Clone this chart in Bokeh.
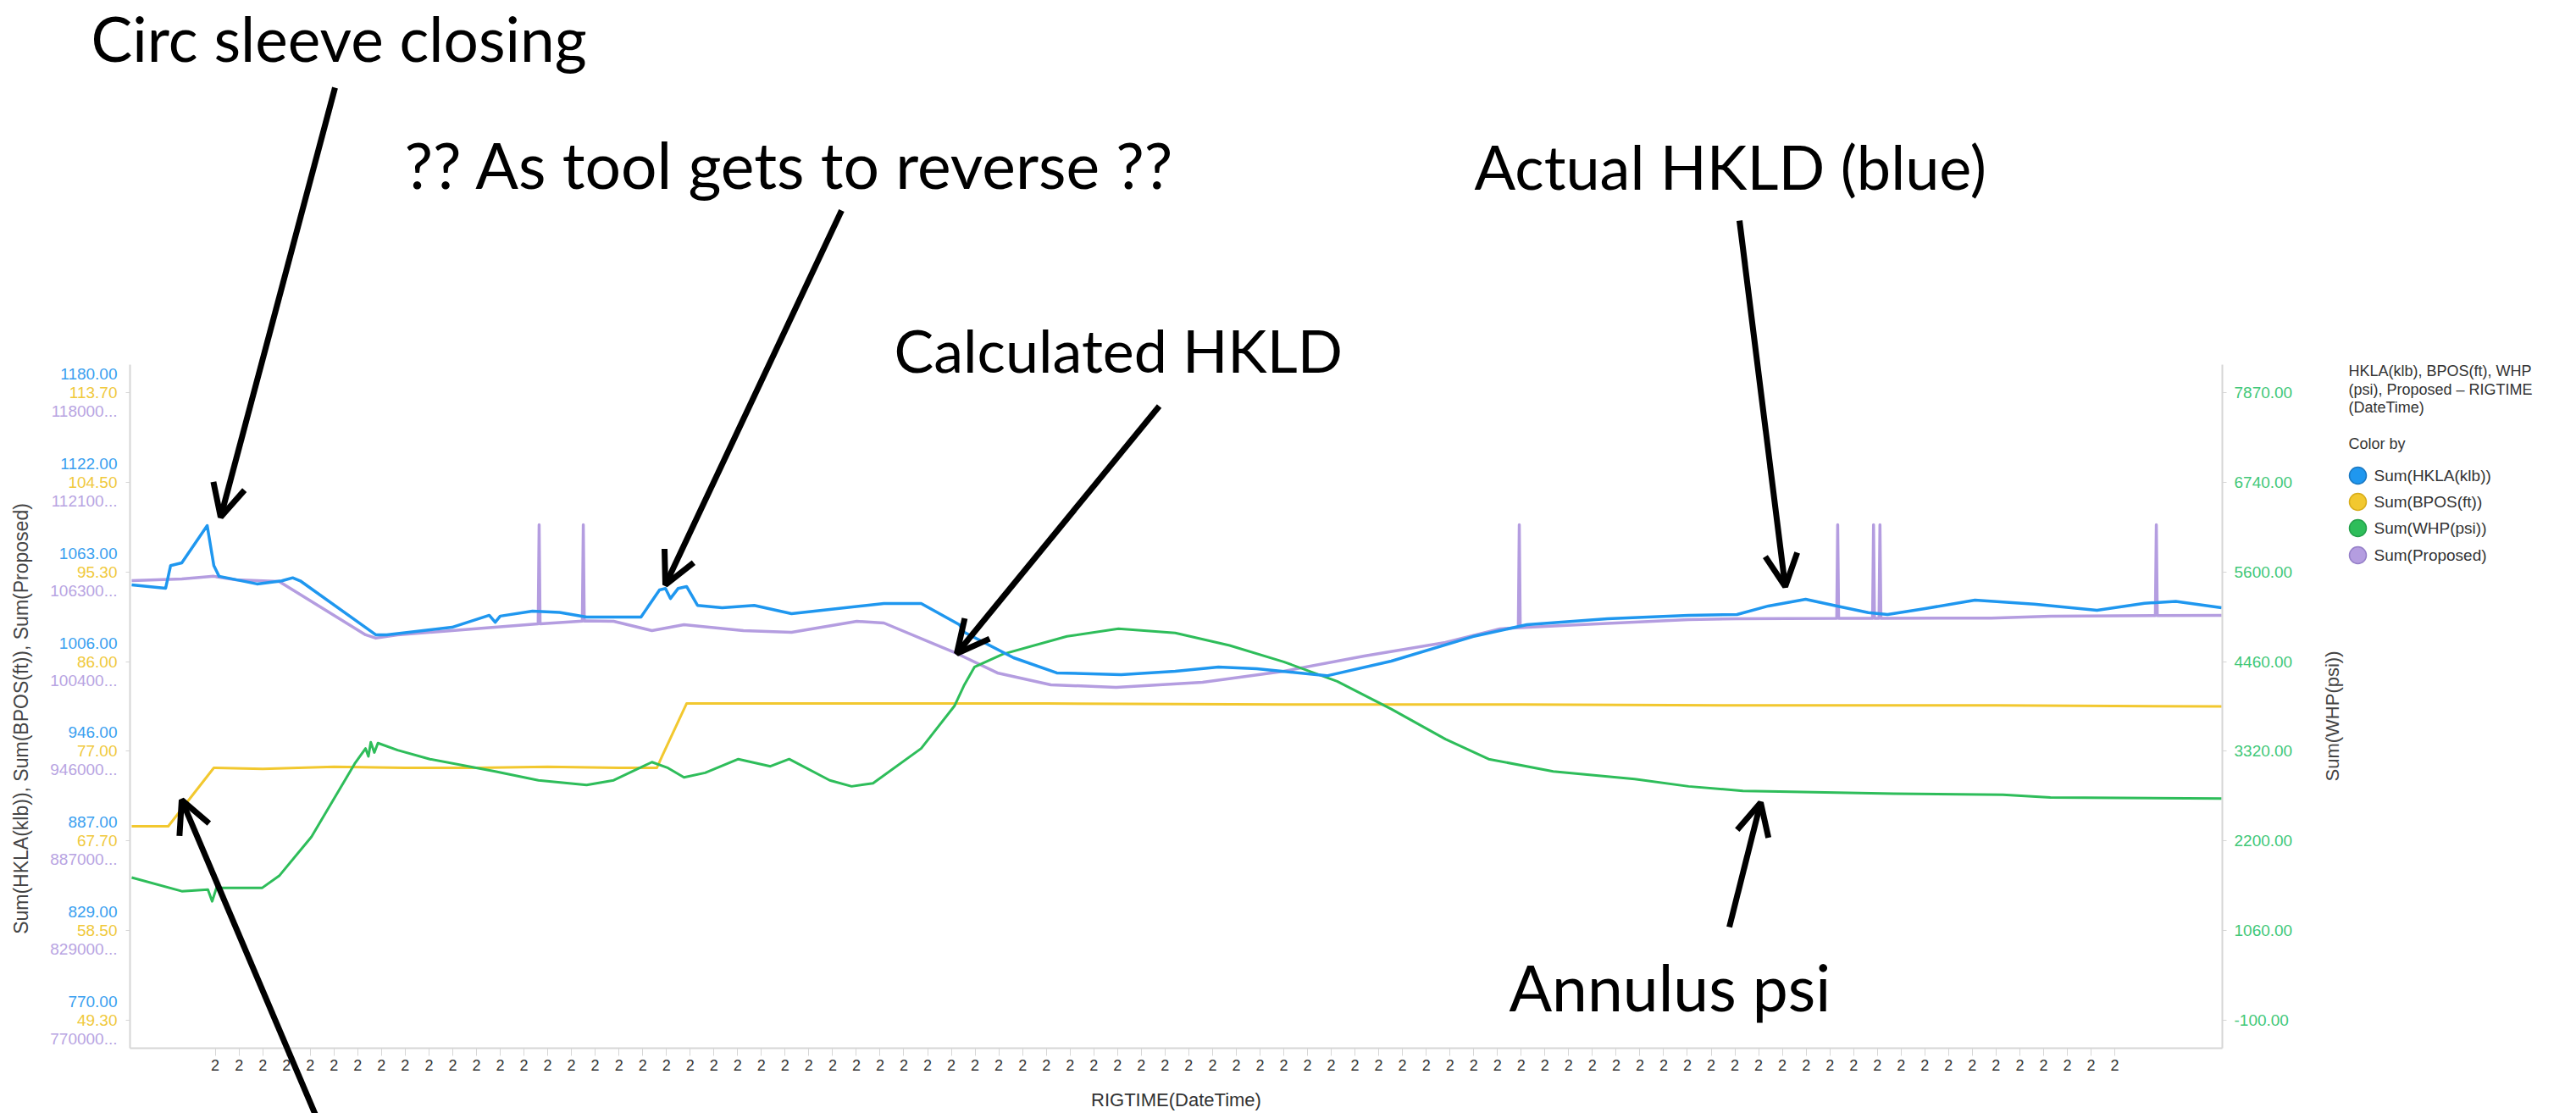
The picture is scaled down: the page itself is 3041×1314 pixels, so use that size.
import numpy as np
from bokeh.plotting import figure
from bokeh.models import (Range1d, LinearAxis, FixedTicker, ColumnDataSource, LabelSet,
                          Label, Arrow, OpenHead)
from bokeh.core.properties import value
from bokeh.embed import file_html
from bokeh.resources import INLINE

# ---------------------------------------------------------------- data
# x = RIGTIME sample position, one unit per category tick on the time axis
hkla_t = [-3.52, -2.09, -1.88, -1.41, -0.34, -0.06, 0.16, 1.76, 2.80, 3.26, 3.58, 6.76, 7.22,
          9.97, 11.54, 11.79, 12.00, 13.36, 14.50, 15.64, 17.93, 18.71, 18.96, 19.17, 19.49,
          19.85, 20.31, 21.35, 22.70, 24.27, 25.88, 28.16, 29.73, 31.34, 31.55, 33.62, 35.44,
          38.15, 40.43, 42.25, 43.86, 46.82, 49.53, 52.96, 55.24, 58.63, 62.05, 64.09, 65.41,
          66.98, 68.30, 69.62, 70.43, 72.01, 74.11, 76.61, 79.25, 81.25, 82.57, 84.50]
hkla_v = [1054.4, 1052.2, 1067.0, 1068.8, 1093.1, 1067.0, 1060.0, 1055.0, 1057.0, 1059.0,
          1057.0, 1021.8, 1021.8, 1026.7, 1034.5, 1030.0, 1034.0, 1037.2, 1036.4, 1033.4,
          1033.4, 1051.1, 1052.0, 1045.5, 1052.0, 1053.3, 1041.0, 1039.5, 1041.0, 1035.6,
          1038.3, 1042.2, 1042.2, 1028.4, 1023.4, 1006.8, 996.9, 995.7, 998.0, 1000.7, 999.6,
          995.0, 1004.6, 1020.6, 1028.4, 1032.3, 1034.5, 1035.0, 1040.6, 1045.0, 1040.6,
          1036.3, 1035.0, 1038.9, 1044.4, 1041.8, 1037.8, 1042.4, 1043.6, 1039.5]

bpos_t = [-3.52, -1.98, -0.06, 2.0, 5.0, 8.0, 11.0, 14.0, 17.0, 18.60, 18.82, 19.85, 25.0,
          35.0, 45.0, 55.0, 65.0, 75.0, 84.50]
bpos_v = [69.2, 69.2, 75.2, 75.1, 75.3, 75.2, 75.2, 75.3, 75.2, 75.2, 76.4, 81.8, 81.8, 81.8,
          81.7, 81.7, 81.6, 81.6, 81.5]

whp_t = [-3.52, -1.41, -0.31, -0.13, 0.05, 1.98, 2.69, 4.05, 5.87, 6.33, 6.45, 6.55, 6.70,
         6.85, 7.68, 9.04, 11.79, 13.61, 15.64, 16.78, 18.39, 19.07, 19.74, 20.63, 22.03, 23.38,
         24.17, 25.88, 26.80, 27.70, 29.73, 31.13, 31.55, 31.98, 33.16, 35.87, 38.04, 40.43,
         42.72, 45.00, 47.25, 49.53, 51.81, 53.63, 56.35, 59.78, 62.05, 64.34, 65.87, 70.69,
         75.29, 77.29, 84.50]
whp_v = [1712, 1539, 1560, 1410, 1580, 1582, 1733, 2229, 3157, 3351, 3250, 3430, 3300, 3420,
         3330, 3216, 3060, 2947, 2887, 2947, 3178, 3103, 2984, 3042, 3216, 3125, 3216, 2947,
         2870, 2909, 3351, 3890, 4160, 4387, 4548, 4775, 4872, 4818, 4660, 4451, 4203, 3852,
         3470, 3216, 3060, 2963, 2870, 2812, 2805, 2776, 2765, 2729, 2715]

prop_t = [-3.52, -1.41, -0.06, 0.87, 2.69, 6.33, 6.76, 7.68, 9.97, 12.22, 13.60, 13.64, 13.68,
          15.46, 15.50, 15.54, 15.64, 16.78, 18.39, 19.74, 22.24, 24.27, 27.02, 28.16, 31.23,
          32.94, 35.19, 37.94, 41.58, 45.00, 48.39, 51.81, 54.10, 54.88, 54.92, 54.96, 57.48,
          62.05, 64.09, 68.29, 68.33, 68.37, 69.80, 69.84, 69.88, 70.07, 70.11, 70.15, 74.80,
          77.30, 81.71, 81.75, 81.79, 84.50]
prop_v = [1057200, 1058300, 1060000, 1057700, 1056600, 1021800, 1019600, 1021800, 1024500,
          1027300, 1028900, 1093700, 1028900, 1030800, 1093700, 1030800, 1030900, 1030600,
          1024500, 1028400, 1024500, 1023400, 1030600, 1029500, 1009600, 996900, 989100,
          987500, 990800, 998000, 1007900, 1016800, 1025600, 1026500, 1093700, 1026500,
          1028400, 1031700, 1032300, 1032500, 1093700, 1032500, 1032600, 1093700, 1032600,
          1032600, 1093700, 1032600, 1032700, 1033900, 1034300, 1093700, 1034300, 1034500]

x_tick_labels = ["2"] * 81
hkla_tick_labels = ["770.00", "829.00", "887.00", "946.00", "1006.00", "1063.00", "1122.00", "1180.00"]
bpos_tick_labels = ["49.30", "58.50", "67.70", "77.00", "86.00", "95.30", "104.50", "113.70"]
prop_tick_labels = ["770000...", "829000...", "887000...", "946000...", "100400...",
                    "106300...", "112100...", "118000..."]
whp_tick_labels = ["-100.00", "1060.00", "2200.00", "3320.00", "4460.00", "5600.00",
                   "6740.00", "7870.00"]
series_names = ["Sum(HKLA(klb))", "Sum(BPOS(ft))", "Sum(WHP(psi))", "Sum(Proposed)"]
legend_heading = ["HKLA(klb), BPOS(ft), WHP", "(psi), Proposed \u2013 RIGTIME", "(DateTime)"]

# ---------------------------------------------------------------- geometry / styling
BLUE, YELLOW, GREEN, PURPLE = "#1f97ef", "#f2c82f", "#2ebd5a", "#b49de0"
EDGES = ["#1a78c2", "#d8ad1a", "#24a04b", "#957fc8"]
BLUE_T, YELLOW_T, GREEN_T, PURPLE_T = "#3a9ff0", "#f0c93c", "#3fc878", "#b8a4e2"
AX = "#d6d6d6"
FONT = "Liberation Sans"
BIG = "Lato"

W, H = 3041, 1314
CL, CT, CW, CH = 153, 430, 2470, 807   # plot area on the canvas
PAD = 0.0445
X_CHART = (-3.59, 84.53)

def lim(labels):
    return float(labels[0].replace("...", "")), float(labels[-1].replace("...", ""))

def chart_y(lo, hi):
    d = (hi - lo) * PAD
    return lo - d, hi + d

def canvas_x(c0, c1):
    ppu = CW / (c1 - c0)
    return Range1d(c0 - CL / ppu, c1 + (W - CL - CW) / ppu)

def canvas_y(c0, c1):
    ppu = CH / (c1 - c0)
    return Range1d(c0 - (H - CT - CH) / ppu, c1 + CT / ppu)

h_lo, h_hi = lim(hkla_tick_labels)
b_lo, b_hi = lim(bpos_tick_labels)
w_lo, w_hi = lim(whp_tick_labels)
p_lo, p_hi = h_lo * 1000, h_hi * 1000

HC = chart_y(h_lo, h_hi)
BC = chart_y(b_lo, b_hi)
WC = chart_y(w_lo, w_hi)
PC = chart_y(p_lo, p_hi)

xr = canvas_x(*X_CHART)
yr = canvas_y(*HC)

p = figure(width=W, height=H, x_range=xr, y_range=yr,
           output_backend="svg", toolbar_location=None,
           min_border=0, min_border_left=0, min_border_right=0,
           min_border_top=0, min_border_bottom=0)
p.extra_y_ranges = {"bpos": canvas_y(*BC), "whp": canvas_y(*WC), "prop": canvas_y(*PC)}
p.outline_line_color = None
p.grid.visible = False
p.background_fill_color = "white"
p.border_fill_color = "white"

# lines
p.line(prop_t, prop_v, y_range_name="prop", color=PURPLE, line_width=3.5, line_join="round")
p.line(bpos_t, bpos_v, y_range_name="bpos", color=YELLOW, line_width=3, line_join="round")
p.line(whp_t, whp_v, y_range_name="whp", color=GREEN, line_width=3, line_join="round")
p.line(hkla_t, hkla_v, color=BLUE, line_width=3.5, line_join="round")

# x axis
xa = p.xaxis[0]
xa.fixed_location = HC[0]
xa.bounds = X_CHART
xa.ticker = FixedTicker(ticks=list(range(len(x_tick_labels))))
xa.major_label_overrides = {i: s for i, s in enumerate(x_tick_labels)}
xa.axis_label = "RIGTIME(DateTime)"
xa.axis_line_color = AX
xa.axis_line_width = 2
xa.major_tick_line_color = AX
xa.major_tick_out = 9
xa.major_tick_in = 0
xa.minor_tick_line_color = None
xa.major_label_text_font = FONT
xa.major_label_text_font_size = "18px"
xa.major_label_text_color = "#333333"
xa.major_label_standoff = 4
xa.axis_label_text_font = FONT
xa.axis_label_text_font_size = "22px"
xa.axis_label_text_font_style = "normal"
xa.axis_label_text_color = "#333333"
xa.axis_label_standoff = 19

# left axis (shared by HKLA / BPOS / Proposed)
left_pos = np.linspace(h_lo, h_hi, len(hkla_tick_labels)).tolist()
ya = p.yaxis[0]
ya.fixed_location = X_CHART[0]
ya.bounds = HC
ya.ticker = FixedTicker(ticks=left_pos)
ya.major_label_overrides = {t: s for t, s in zip(left_pos, bpos_tick_labels)}
ya.major_label_text_color = YELLOW_T
ya.major_label_standoff = 10

# right axis (WHP)
right_pos = np.linspace(w_lo, w_hi, len(whp_tick_labels)).tolist()
ra = LinearAxis(y_range_name="whp", ticker=FixedTicker(ticks=right_pos),
                major_label_overrides={t: s for t, s in zip(right_pos, whp_tick_labels)},
                fixed_location=X_CHART[1], bounds=WC)
p.add_layout(ra, "right")
ra.major_label_text_color = GREEN_T
ra.major_label_standoff = 9

for ax in (ya, ra):
    ax.axis_line_color = AX
    ax.axis_line_width = 2
    ax.major_tick_line_color = AX
    ax.major_tick_out = 5
    ax.major_tick_in = 0
    ax.minor_tick_line_color = None
    ax.major_label_text_font = FONT
    ax.major_label_text_font_size = "19px"

# stacked blue / purple tick labels on the left axis
for labels, color, dy in ((hkla_tick_labels, BLUE_T, 22), (prop_tick_labels, PURPLE_T, -22)):
    src = ColumnDataSource(dict(x=[X_CHART[0]] * len(labels), y=left_pos, text=labels))
    p.add_layout(LabelSet(x="x", y="y", text="text", source=src, x_offset=-15, y_offset=dy,
                          text_align="right", text_baseline="middle",
                          text_font=value(FONT), text_font_size=value("19px"),
                          text_color=color))

# ---------------------------------------------------------------- annotation helpers
def at(xp, yp):
    """canvas pixel -> data coordinates of the default ranges"""
    return (xr.start + xp / W * (xr.end - xr.start), yr.end - yp / H * (yr.end - yr.start))

# vertical axis titles
for txt, xp, yp, size in (("Sum(HKLA(klb)), Sum(BPOS(ft)), Sum(Proposed)", 24, 848, "23px"),
                          ("Sum(WHP(psi))", 2753, 845, "22px")):
    x, y = at(xp, yp)
    p.add_layout(Label(x=x, y=y, text=txt, angle=np.pi / 2, text_font=FONT,
                       text_font_size=size, text_color="#444444",
                       text_align="center", text_baseline="middle"))

# legend heading + "Color by"
for txt, yp in zip(legend_heading + ["Color by"], (437, 459, 480, 523)):
    x, y = at(2772, yp)
    p.add_layout(Label(x=x, y=y, text=txt, text_font=FONT, text_font_size="18px",
                       text_color="#333333", text_baseline="middle", text_align="left"))

# legend entries
leg_y = [561, 592, 623, 655]
pts = [at(2783, yy) for yy in leg_y]
p.scatter([q[0] for q in pts], [q[1] for q in pts], size=20,
          fill_color=[BLUE, YELLOW, GREEN, PURPLE], line_color=EDGES, line_width=1.5)
for name, yy in zip(series_names, leg_y):
    x, y = at(2802, yy)
    p.add_layout(Label(x=x, y=y, text=name, text_font=FONT, text_font_size="19px",
                       text_color="#333333", text_baseline="middle", text_align="left"))

# big overlay texts (left x, vertical centre, size)
for txt, xp, yp, size in (("Circ sleeve closing", 107, 44, "73px"),
                          ("?? As tool gets to reverse ??", 477, 193, "75px"),
                          ("Calculated HKLD", 1055, 412, "70px"),
                          ("Actual HKLD (blue)", 1740, 195, "72px"),
                          ("Annulus psi", 1781, 1164, "75px")):
    x, y = at(xp, yp)
    p.add_layout(Label(x=x, y=y, text=txt, text_font=BIG, text_font_size=size,
                       text_color="black", text_baseline="middle", text_align="left"))

# arrows
for (xs, ys), (xe, ye) in (((395, 103), (260, 610)),
                           ((993, 248), (785, 690)),
                           ((1368, 479), (1129, 771)),
                           ((2053, 260), (2107, 692)),
                           ((2041, 1094), (2078, 947)),
                           ((378, 1330), (214, 944))):
    a0, b0 = at(xs, ys)
    a1, b1 = at(xe, ye)
    p.add_layout(Arrow(x_start=a0, y_start=b0, x_end=a1, y_end=b1, line_width=7,
                       line_color="black",
                       end=OpenHead(size=38, line_width=7, line_color="black")))

open("out.html", "w").write(file_html(p, INLINE))
